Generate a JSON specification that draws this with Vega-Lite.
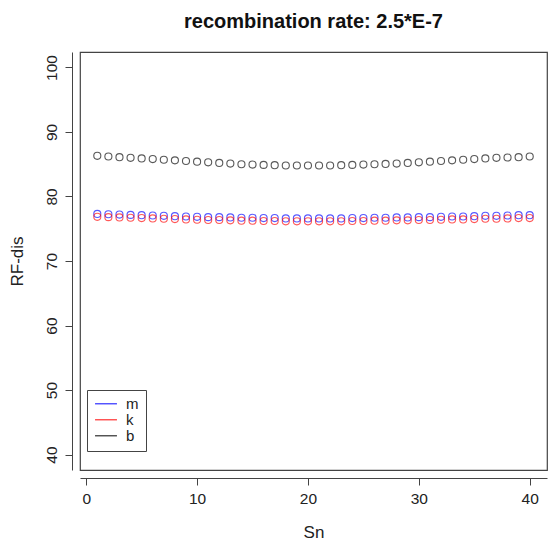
{
  "$schema": "https://vega.github.io/schema/vega-lite/v6.json",
  "autosize": "none",
  "width": 467,
  "height": 418,
  "padding": {"left": 80, "top": 52, "right": 3, "bottom": 78},
  "background": "white",
  "config": {
    "font": "Liberation Sans",
    "view": {"stroke": "#444444", "strokeWidth": 1.2},
    "axis": {"grid": false, "domainColor": "#444444", "tickColor": "#444444", "labelColor": "#222222", "titleColor": "#222222", "labelFontSize": 15.5, "titleFontSize": 17, "titleFontWeight": "normal", "labelFont": "Liberation Sans", "titleFont": "Liberation Sans", "tickSize": 7, "offset": 8}
  },
  "title": {"text": "recombination rate: 2.5*E-7", "fontSize": 20, "fontWeight": "bold", "font": "Liberation Sans", "color": "#111111", "anchor": "middle", "offset": 20},
  "data": {"values": [
    {"Sn":1,"m":77.3,"k":76.85,"b":86.3},
    {"Sn":2,"m":77.25,"k":76.8,"b":86.2},
    {"Sn":3,"m":77.2,"k":76.75,"b":86.1},
    {"Sn":4,"m":77.15,"k":76.7,"b":86.0},
    {"Sn":5,"m":77.1,"k":76.65,"b":85.9},
    {"Sn":6,"m":77.05,"k":76.6,"b":85.8},
    {"Sn":7,"m":77.0,"k":76.55,"b":85.7},
    {"Sn":8,"m":76.95,"k":76.5,"b":85.6},
    {"Sn":9,"m":76.9,"k":76.45,"b":85.5},
    {"Sn":10,"m":76.85,"k":76.4,"b":85.4},
    {"Sn":11,"m":76.8,"k":76.35,"b":85.3},
    {"Sn":12,"m":76.8,"k":76.35,"b":85.2},
    {"Sn":13,"m":76.75,"k":76.3,"b":85.1},
    {"Sn":14,"m":76.7,"k":76.25,"b":85.0},
    {"Sn":15,"m":76.7,"k":76.25,"b":84.95},
    {"Sn":16,"m":76.65,"k":76.2,"b":84.9},
    {"Sn":17,"m":76.65,"k":76.2,"b":84.85},
    {"Sn":18,"m":76.6,"k":76.15,"b":84.8},
    {"Sn":19,"m":76.6,"k":76.15,"b":84.8},
    {"Sn":20,"m":76.6,"k":76.15,"b":84.8},
    {"Sn":21,"m":76.6,"k":76.15,"b":84.8},
    {"Sn":22,"m":76.6,"k":76.15,"b":84.8},
    {"Sn":23,"m":76.6,"k":76.15,"b":84.85},
    {"Sn":24,"m":76.65,"k":76.2,"b":84.9},
    {"Sn":25,"m":76.65,"k":76.2,"b":84.95},
    {"Sn":26,"m":76.7,"k":76.25,"b":85.0},
    {"Sn":27,"m":76.7,"k":76.25,"b":85.05},
    {"Sn":28,"m":76.75,"k":76.3,"b":85.1},
    {"Sn":29,"m":76.75,"k":76.3,"b":85.2},
    {"Sn":30,"m":76.8,"k":76.35,"b":85.3},
    {"Sn":31,"m":76.8,"k":76.35,"b":85.4},
    {"Sn":32,"m":76.85,"k":76.4,"b":85.5},
    {"Sn":33,"m":76.9,"k":76.45,"b":85.6},
    {"Sn":34,"m":76.9,"k":76.45,"b":85.7},
    {"Sn":35,"m":76.95,"k":76.5,"b":85.8},
    {"Sn":36,"m":77.0,"k":76.55,"b":85.9},
    {"Sn":37,"m":77.0,"k":76.55,"b":86.0},
    {"Sn":38,"m":77.05,"k":76.6,"b":86.05},
    {"Sn":39,"m":77.1,"k":76.65,"b":86.1},
    {"Sn":40,"m":77.1,"k":76.65,"b":86.2}
  ]},
  "transform": [{"fold": ["m", "k", "b"], "as": ["series", "value"]}],
  "mark": {"type": "point", "shape": "circle", "filled": false, "size": 50, "strokeWidth": 1.1, "opacity": 0.65},
  "encoding": {
    "x": {"field": "Sn", "type": "quantitative", "title": "Sn",
      "scale": {"domain": [-0.56, 41.56], "nice": false, "zero": false},
      "axis": {"values": [0, 10, 20, 30, 40], "labelPadding": 6, "titlePadding": 18}},
    "y": {"field": "value", "type": "quantitative", "title": "RF-dis",
      "scale": {"domain": [37.6, 102.4], "nice": false, "zero": false},
      "axis": {"values": [40, 50, 60, 70, 80, 90, 100], "labelAngle": -90, "labelAlign": "center", "labelBaseline": "bottom", "labelPadding": 6, "titlePadding": 18}},
    "color": {"field": "series", "type": "nominal",
      "scale": {"domain": ["m", "k", "b"], "range": ["#0000ff", "#ff0000", "#000000"]},
      "legend": {"title": null, "orient": "none", "legendX": 7, "legendY": 338,
        "symbolType": "stroke", "symbolSize": 480, "symbolStrokeWidth": 1.4, "symbolOpacity": 0.7,
        "clipHeight": 13.5,
        "strokeColor": "#444444", "padding": 7, "labelFontSize": 15, "labelFont": "Liberation Sans", "labelColor": "#222222",
        "rowPadding": 0, "labelOffset": 8}}
  }
}
